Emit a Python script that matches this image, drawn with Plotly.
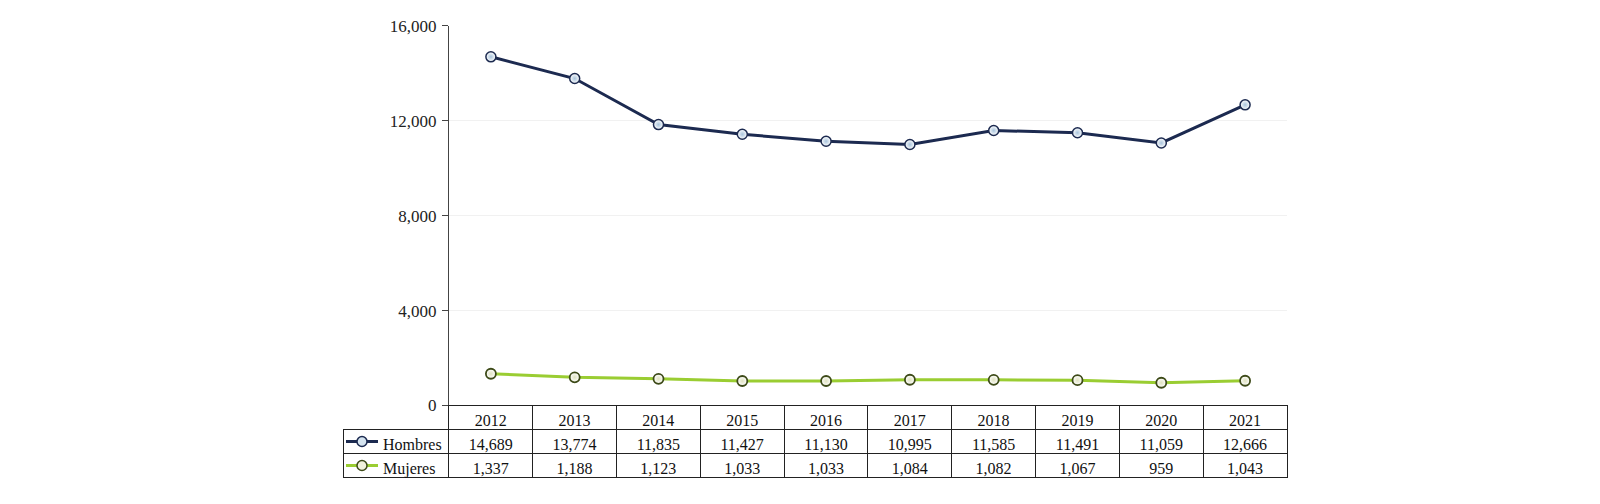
import plotly.graph_objects as go

years = ["2012", "2013", "2014", "2015", "2016", "2017", "2018", "2019", "2020", "2021"]
hombres = [14689, 13774, 11835, 11427, 11130, 10995, 11585, 11491, 11059, 12666]
mujeres = [1337, 1188, 1123, 1033, 1033, 1084, 1082, 1067, 959, 1043]
series_names = ["Hombres", "Mujeres"]
y_ticks = [0, 4000, 8000, 12000, 16000]

W, H = 1600, 504
NAVY = "#1c2a50"
GREEN = "#9acd32"
FONT = "Liberation Serif"

# pixel layout
plot_l, plot_r = 449, 1287
plot_t, plot_b = 25.7, 405.5
tab_l = 343
row_h = 24

fig = go.Figure()

fig.add_trace(go.Scatter(
    x=years, y=hombres, name=series_names[0], mode="lines+markers",
    line=dict(color=NAVY, width=3),
    marker=dict(size=10, color="#ffffff", line=dict(color=NAVY, width=1.5),
                gradient=dict(type="radial", color="#a9c4dc")),
    hoverinfo="skip",
))
fig.add_trace(go.Scatter(
    x=years, y=mujeres, name=series_names[1], mode="lines+markers",
    line=dict(color=GREEN, width=3),
    marker=dict(size=10, color="#ffffff", line=dict(color="#3d4a18", width=1.8),
                gradient=dict(type="radial", color="#dfe2c0")),
    hoverinfo="skip",
))

fmt = lambda v: f"{v:,}"
nb = "\u00a0" * 8
fig.add_trace(go.Table(
    domain=dict(x=[tab_l / W, plot_r / W], y=[0, 1 - plot_b / H]),
    columnwidth=[plot_l - tab_l] + [84] * len(years),
    header=dict(
        values=[""] + years,
        height=row_h,
        fill_color=["rgba(0,0,0,0)"] + ["white"] * len(years),
        line=dict(color=["rgba(0,0,0,0)"] + ["#222222"] * len(years), width=1),
        align="center",
        font=dict(family=FONT, size=16, color="#111111"),
    ),
    cells=dict(
        values=[[nb + series_names[0], nb + series_names[1]]]
        + [[fmt(h), fmt(m)] for h, m in zip(hombres, mujeres)],
        height=row_h,
        fill_color="white",
        line=dict(color="#222222", width=1),
        align=["left"] + ["center"] * len(years),
        font=dict(family=FONT, size=16, color="#111111"),
    ),
))

# legend swatches in the table label cells
shapes = []
for i, (lc, mc, oc) in enumerate([(NAVY, "#d4e3ef", NAVY), (GREEN, "#f1f2dc", "#3d4a18")]):
    cy = 1 - (plot_b + row_h * (i + 1) + row_h / 2) / H
    shapes.append(dict(type="line", xref="paper", yref="paper",
                       x0=346 / W, x1=378 / W, y0=cy, y1=cy,
                       line=dict(color=lc, width=3)))
    shapes.append(dict(type="circle", xref="paper", yref="paper",
                       x0=357 / W, x1=367 / W, y0=cy - 5 / H, y1=cy + 5 / H,
                       fillcolor=mc, line=dict(color=oc, width=1.5)))

fig.update_layout(
    width=W, height=H,
    autosize=False,
    margin=dict(l=0, r=0, t=0, b=0, pad=0, autoexpand=False),
    paper_bgcolor="white", plot_bgcolor="white",
    showlegend=False,
    shapes=shapes,
    font=dict(family=FONT, size=15, color="#333333"),
    xaxis=dict(
        domain=[plot_l / W, plot_r / W],
        type="category", range=[-0.5, len(years) - 0.5],
        showticklabels=False, ticks="", showgrid=False, zeroline=False,
        showline=True, linecolor="#222222", linewidth=1,
        fixedrange=True, automargin=False,
    ),
    yaxis=dict(
        domain=[1 - plot_b / H, 1 - plot_t / H],
        range=[0, 16000],
        tickvals=y_ticks, tickformat=",",
        ticks="outside", ticklen=6, tickcolor="#444444",
        ticklabelstandoff=2,
        showline=True, linecolor="#444444", linewidth=1,
        showgrid=True, gridcolor="#f1f1f1", gridwidth=1,
        zeroline=False,
        tickfont=dict(family=FONT, size=17, color="#222222"),
        fixedrange=True, automargin=False,
    ),
)

fig.write_html(
    "out.html",
    config={"displayModeBar": False},
    post_script="document.body.style.margin='0';document.body.style.overflow='hidden';",
)
